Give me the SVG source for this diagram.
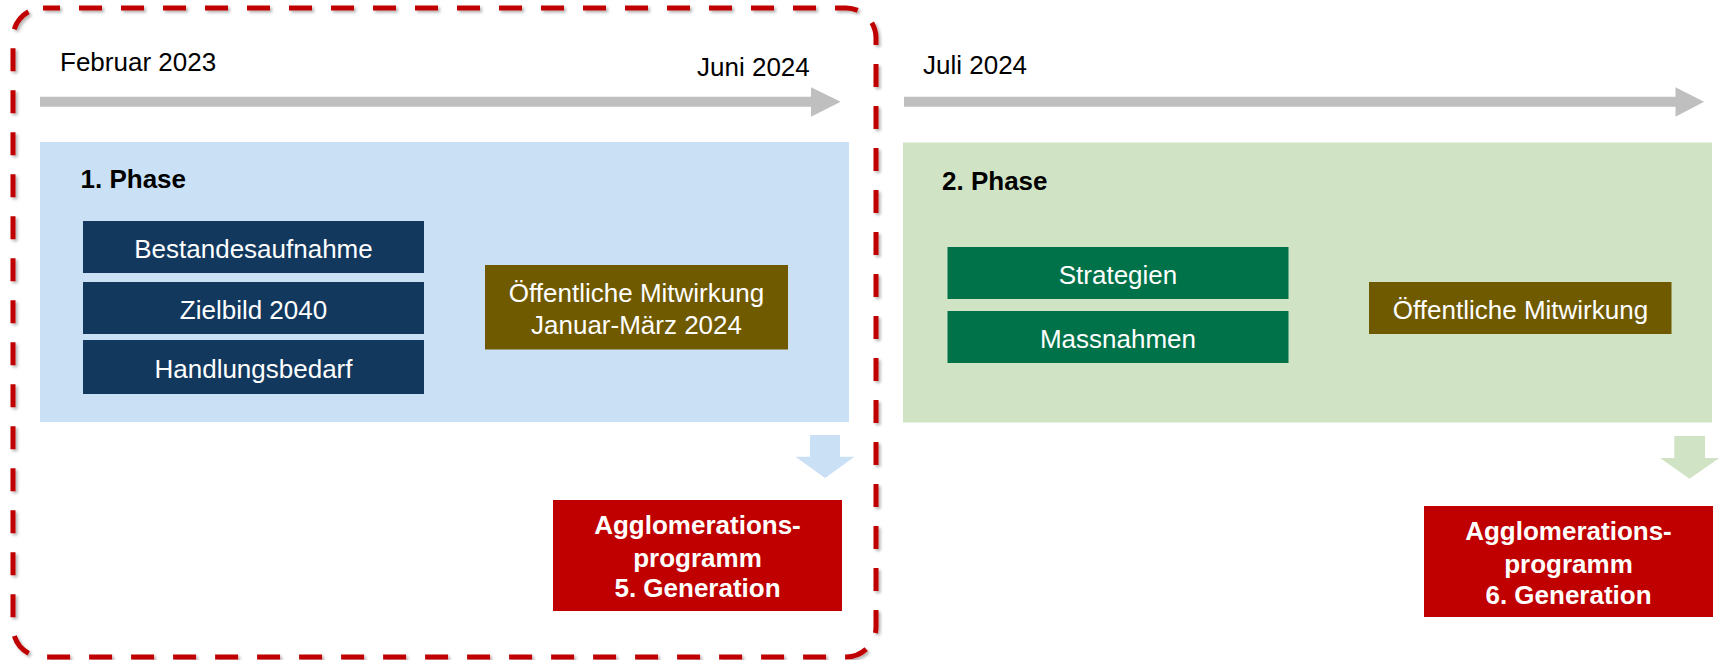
<svg xmlns="http://www.w3.org/2000/svg" width="1723" height="660" viewBox="0 0 1723 660">
<defs>
<filter id="sh" x="-5%" y="-5%" width="110%" height="110%">
<feDropShadow dx="2" dy="2" stdDeviation="1.5" flood-color="#000" flood-opacity="0.3"/>
</filter>
</defs>
<style>
text{font-family:"Liberation Sans",Arial,sans-serif;font-size:26px}
.w{fill:#fff}
.k{fill:#000}
.b{font-weight:bold}
.m{text-anchor:middle}
.navy{fill:#12385E}
.gold{fill:#705A00}
.dg{fill:#007249}
.red{fill:#C00000}
.lb{fill:#CAE0F4}
.lg{fill:#D0E4C5}
.tl{fill:#BFBFBF}
</style>
<rect width="1723" height="660" fill="#fff"/>

<g id="phase1-frame">
<rect x="13" y="8" width="863" height="649" rx="30" ry="30" fill="none" stroke="#C00000" stroke-width="5" stroke-dasharray="23 19" stroke-dashoffset="6" filter="url(#sh)"/>
</g>

<g id="phase1">
<rect class="lb" x="40" y="142" width="809" height="280"/>
<text class="k b" x="80.5" y="188">1. Phase</text>
</g>
<g id="phase2">
<rect class="lg" x="903" y="142.5" width="809" height="280"/>
<text class="k b" x="942" y="190">2. Phase</text>
</g>

<g id="labels">
<text class="k" x="60" y="71">Februar 2023</text>
<text class="k" x="697" y="76">Juni 2024</text>
<text class="k" x="923" y="74">Juli 2024</text>
</g>

<g id="bestandesaufnahme">
<rect class="navy" x="83" y="221" width="341" height="52"/>
<text class="w m" x="253.5" y="258">Bestandesaufnahme</text>
</g>
<g id="zielbild">
<rect class="navy" x="83" y="282" width="341" height="52"/>
<text class="w m" x="253.5" y="319">Zielbild 2040</text>
</g>
<g id="handlungsbedarf">
<rect class="navy" x="83" y="340" width="341" height="54"/>
<text class="w m" x="253.5" y="378">Handlungsbedarf</text>
</g>
<g id="mitwirkung1">
<rect class="gold" x="485" y="265" width="303" height="84.5"/>
<text class="w m" x="636.5" y="301.5">Öffentliche Mitwirkung</text>
<text class="w m" x="636.5" y="333.5">Januar-März 2024</text>
</g>
<g id="strategien">
<rect class="dg" x="947.5" y="247" width="341" height="52"/>
<text class="w m" x="1118" y="283.5">Strategien</text>
</g>
<g id="massnahmen">
<rect class="dg" x="947.5" y="311" width="341" height="52"/>
<text class="w m" x="1118" y="347.5">Massnahmen</text>
</g>
<g id="mitwirkung2">
<rect class="gold" x="1369" y="282" width="302.5" height="52"/>
<text class="w m" x="1520.5" y="318.5">Öffentliche Mitwirkung</text>
</g>
<g id="ap5">
<rect class="red" x="553" y="500" width="289" height="111"/>
<text class="w m b" x="697.5" y="533.5">Agglomerations-</text>
<text class="w m b" x="697.5" y="566.5">programm</text>
<text class="w m b" x="697.5" y="597">5. Generation</text>
</g>
<g id="ap6">
<rect class="red" x="1424" y="506" width="289" height="111"/>
<text class="w m b" x="1568.5" y="539.5">Agglomerations-</text>
<text class="w m b" x="1568.5" y="573">programm</text>
<text class="w m b" x="1568.5" y="603.5">6. Generation</text>
</g>

<g id="connectors">
<polygon class="tl" points="40,96.7 811,96.7 811,87.3 840.7,101.7 811,116.7 811,106.7 40,106.7"/>
<polygon class="tl" points="904,96.7 1675.5,96.7 1675.5,87.3 1704,101.7 1675.5,116.7 1675.5,106.7 904,106.7"/>
<polygon class="lb" points="810,435 840,435 840,456.7 854.5,456.7 825,478 795.5,456.7 810,456.7"/>
<polygon class="lg" points="1674.3,436 1705,436 1705,458 1719.3,458 1689.5,478.7 1660,458 1674.3,458"/>
</g>
</svg>
